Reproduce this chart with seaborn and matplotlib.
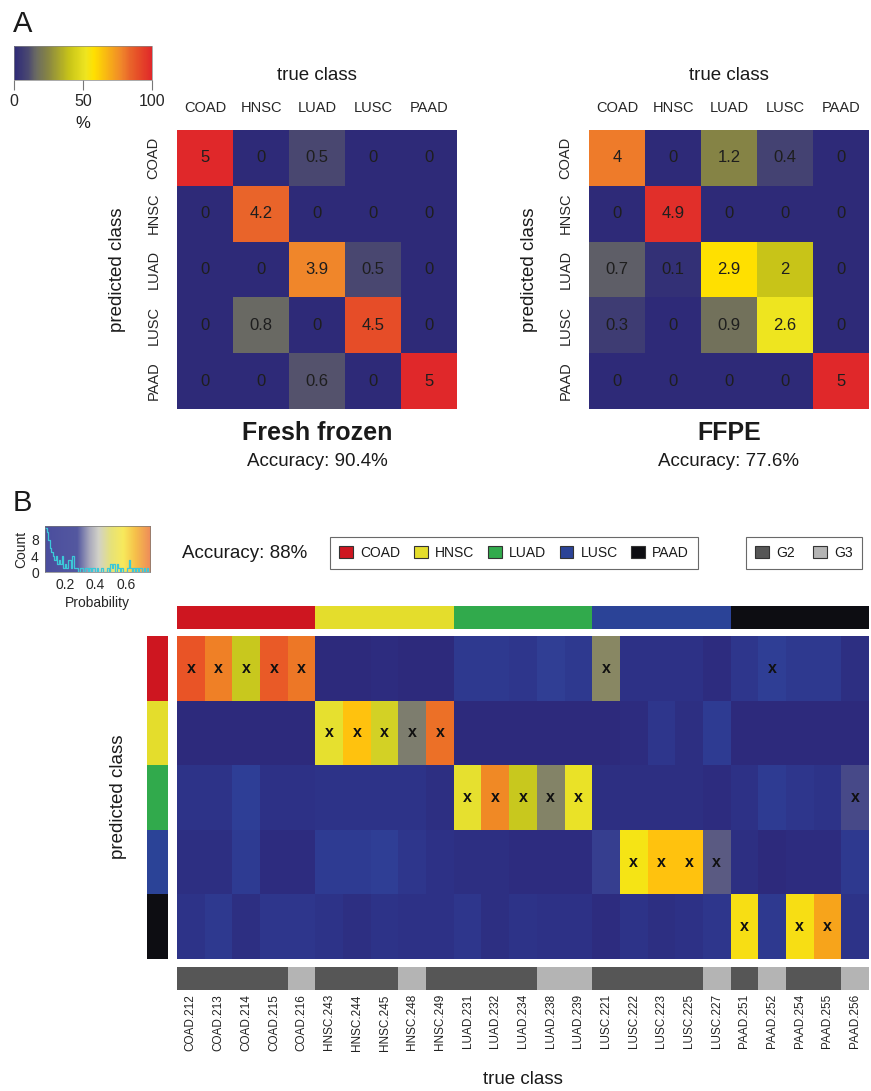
import numpy as np
import pandas as pd
import matplotlib
matplotlib.use("Agg")
import matplotlib as mpl
import matplotlib.pyplot as plt
import seaborn as sns
from matplotlib.colors import LinearSegmentedColormap, ListedColormap, Normalize
from matplotlib.patches import Patch

sns.set_style("white")
plt.rcParams["font.family"] = ["Liberation Sans", "DejaVu Sans"]
plt.rcParams["text.color"] = "#1a1a1a"

# ---------------- data ----------------
classes = ["COAD", "HNSC", "LUAD", "LUSC", "PAAD"]
class_colors = ["#CE1620", "#E4DD2C", "#31AA4C", "#2B4397", "#0D0D12"]

fresh_frozen = [[5, 0, 0.5, 0, 0],
                [0, 4.2, 0, 0, 0],
                [0, 0, 3.9, 0.5, 0],
                [0, 0.8, 0, 4.5, 0],
                [0, 0, 0.6, 0, 5]]
ffpe = [[4, 0, 1.2, 0.4, 0],
        [0, 4.9, 0, 0, 0],
        [0.7, 0.1, 2.9, 2, 0],
        [0.3, 0, 0.9, 2.6, 0],
        [0, 0, 0, 0, 5]]
acc_fresh = "90.4%"
acc_ffpe = "77.6%"
acc_b = "88%"

samples = ["COAD.212", "COAD.213", "COAD.214", "COAD.215", "COAD.216",
           "HNSC.243", "HNSC.244", "HNSC.245", "HNSC.248", "HNSC.249",
           "LUAD.231", "LUAD.232", "LUAD.234", "LUAD.238", "LUAD.239",
           "LUSC.221", "LUSC.222", "LUSC.223", "LUSC.225", "LUSC.227",
           "PAAD.251", "PAAD.252", "PAAD.254", "PAAD.255", "PAAD.256"]
true_class = [s.split(".")[0] for s in samples]
grade = ["G2", "G2", "G2", "G2", "G3",
         "G2", "G2", "G2", "G3", "G2",
         "G2", "G2", "G2", "G3", "G3",
         "G2", "G2", "G2", "G2", "G3",
         "G2", "G3", "G2", "G2", "G3"]
predicted = ["COAD", "COAD", "COAD", "COAD", "COAD",
             "HNSC", "HNSC", "HNSC", "HNSC", "HNSC",
             "LUAD", "LUAD", "LUAD", "LUAD", "LUAD",
             "COAD", "LUSC", "LUSC", "LUSC", "LUSC",
             "PAAD", "COAD", "PAAD", "PAAD", "LUAD"]

prob_coad = [0.74, 0.68, 0.50, 0.73, 0.69, 0.07, 0.07, 0.08, 0.07, 0.07,
             0.13, 0.13, 0.12, 0.17, 0.13, 0.42, 0.10, 0.10, 0.10, 0.08,
             0.12, 0.16, 0.13, 0.13, 0.09]
prob_hnsc = [0.07, 0.07, 0.07, 0.07, 0.07, 0.55, 0.63, 0.52, 0.40, 0.70,
             0.07, 0.07, 0.07, 0.07, 0.07, 0.07, 0.08, 0.12, 0.09, 0.14,
             0.07, 0.07, 0.07, 0.07, 0.07]
prob_luad = [0.11, 0.11, 0.15, 0.10, 0.10, 0.11, 0.11, 0.11, 0.11, 0.09,
             0.55, 0.67, 0.50, 0.41, 0.56, 0.09, 0.09, 0.09, 0.09, 0.08,
             0.10, 0.14, 0.12, 0.11, 0.28]
prob_lusc = [0.09, 0.09, 0.14, 0.08, 0.08, 0.14, 0.14, 0.16, 0.12, 0.10,
             0.09, 0.09, 0.08, 0.08, 0.08, 0.22, 0.58, 0.63, 0.63, 0.32,
             0.09, 0.07, 0.08, 0.08, 0.13]
prob_paad = [0.11, 0.13, 0.09, 0.12, 0.12, 0.11, 0.09, 0.11, 0.10, 0.10,
             0.12, 0.09, 0.11, 0.10, 0.10, 0.08, 0.11, 0.09, 0.10, 0.12,
             0.59, 0.13, 0.59, 0.65, 0.11]

# histogram of the colour key (counts read per 0.01 bin starting at 0.07)
hist_counts = [11, 10, 8, 6, 5, 4, 3, 4, 2, 3,
               2, 4, 1, 2, 1, 3, 3, 1, 4, 1,
               1, 1, 0, 1, 1, 0, 1, 1, 0, 1,
               0, 1, 1, 0, 1, 0, 0, 1, 0, 0,
               0, 1, 0, 2, 1, 2, 0, 2, 1, 0,
               1, 0, 0, 0, 1, 3, 1, 0, 1, 0,
               1, 0, 1, 1, 0, 1, 0, 1, 0]
hist_edges = [round(0.07 + 0.01 * k, 3) for k in range(len(hist_counts) + 1)]
prob_min, prob_max = 0.07, 0.76

# ---------------- colour maps ----------------
cmapA = LinearSegmentedColormap.from_list("confA", [
    (0.00, "#2E2A78"), (0.10, "#4A4870"), (0.16, "#6B6B62"), (0.24, "#858345"),
    (0.40, "#C8C418"), (0.52, "#EEE520"), (0.58, "#FFE000"), (0.78, "#F0862A"),
    (0.84, "#E9652A"), (0.90, "#E64E28"), (1.00, "#E0282A")])


def nb(p):
    return (p - prob_min) / (prob_max - prob_min)


cmapB = LinearSegmentedColormap.from_list("probB", [
    (nb(0.07), "#2D2A7C"), (nb(0.15), "#2E3E96"), (nb(0.25), "#3A3E8C"),
    (nb(0.32), "#5A5A82"), (nb(0.40), "#7D7D6E"), (nb(0.45), "#9A9850"),
    (nb(0.50), "#C8C81E"), (nb(0.55), "#E5E030"), (nb(0.58), "#F5E515"),
    (nb(0.63), "#FFC20E"), (nb(0.67), "#F08A25"), (nb(0.72), "#EA6028"),
    (nb(0.76), "#E84A25")])

# key shown lighter (blue -> pale grey -> yellow -> orange)
cmapKey = LinearSegmentedColormap.from_list("key", [
    (nb(0.07), "#4B4E9E"), (nb(0.28), "#5458A0"), (nb(0.36), "#A9A9BC"),
    (nb(0.42), "#D2D2C8"), (nb(0.50), "#E6E27A"), (nb(0.58), "#F8EA5C"),
    (nb(0.66), "#F6C04A"), (nb(0.76), "#EE8A5A")])

# ---------------- figure ----------------
W, H = 871, 1091
fig = plt.figure(figsize=(W / 100, H / 100), dpi=100)


def add_ax(x0, y0, x1, y1):
    return fig.add_axes([x0 / W, 1 - y1 / H, (x1 - x0) / W, (y1 - y0) / H])


def ftext(x, y, s, **kw):
    kw.setdefault("ha", "center")
    kw.setdefault("va", "center")
    fig.text(x / W, 1 - y / H, s, **kw)


# ---- Panel A ----
ftext(13, 24, "A", fontsize=21, ha="left")

cax = add_ax(14, 46, 152, 80)
cb = mpl.colorbar.ColorbarBase(cax, cmap=cmapA, norm=Normalize(0, 100),
                               orientation="horizontal", ticks=[0, 50, 100])
cb.outline.set_linewidth(0.5)
cb.outline.set_edgecolor("#888888")
cax.tick_params(length=7, width=0.8, color="#777777", labelsize=11.5, pad=3)
ftext(83, 123, "%", fontsize=12)


def confusion(x0, data, title, acc):
    ax = add_ax(x0, 130, x0 + 280, 409)
    df = pd.DataFrame(data, index=classes, columns=classes)
    sns.heatmap(df, ax=ax, cmap=cmapA, vmin=0, vmax=5, annot=True, fmt="g",
                cbar=False, annot_kws={"size": 12, "color": "#1e1e1e"})
    ax.xaxis.tick_top()
    ax.set_xticklabels(classes, rotation=0)
    ax.set_yticklabels(classes, rotation=90, va="center")
    ax.tick_params(axis="x", length=0, labelsize=10.5, pad=11)
    ax.tick_params(axis="y", length=0, labelsize=10.5, pad=12)
    ax.set_xlabel("")
    ax.set_ylabel("")
    cx = x0 + 140
    ftext(cx, 75, "true class", fontsize=13.5)
    ftext(x0 - 60, 270, "predicted class", fontsize=13.5, rotation=90)
    ftext(cx, 433, title, fontsize=18, fontweight="bold")
    ftext(cx, 462, "Accuracy: " + acc, fontsize=13.5)


confusion(177, fresh_frozen, "Fresh frozen", acc_fresh)
confusion(589, ffpe, "FFPE", acc_ffpe)

# ---- Panel B ----
ftext(13, 503, "B", fontsize=21, ha="left")

axk = add_ax(45, 526, 150, 572)
axk.imshow(np.linspace(prob_min, prob_max, 256)[None, :],
           extent=[prob_min, prob_max, 0, 11.5], aspect="auto", cmap=cmapKey,
           vmin=prob_min, vmax=prob_max, origin="lower")
hist_df = pd.DataFrame({
    "p": [(a + b) / 2 for a, b in zip(hist_edges[:-1], hist_edges[1:])],
    "n": hist_counts})
sns.histplot(data=hist_df, x="p", weights="n", bins=hist_edges, element="step",
             fill=False, color="#3CC8D8", linewidth=0.9, ax=axk)
axk.set_xlim(prob_min, prob_max)
axk.set_ylim(0, 11.5)
axk.set_xticks([0.2, 0.4, 0.6])
axk.set_yticks([0, 4, 8])
axk.tick_params(labelsize=10, length=3, width=0.7, pad=1.5, color="#444444")
axk.set_xlabel("Probability", fontsize=10, labelpad=3)
axk.set_ylabel("Count", fontsize=10, labelpad=2)
for sp in axk.spines.values():
    sp.set_linewidth(0.5)
    sp.set_color("#777777")

ftext(182, 553, "Accuracy: " + acc_b, fontsize=13.5, ha="left")

h1 = [Patch(facecolor=c, edgecolor="#333333", linewidth=0.8) for c in class_colors]
leg1 = fig.legend(h1, classes, ncol=5, loc="center",
                  bbox_to_anchor=(514 / W, 1 - 553 / H), frameon=True,
                  fancybox=False, edgecolor="#444444", fontsize=10,
                  handlelength=1.0, handleheight=1.0, handletextpad=0.5,
                  columnspacing=1.0, borderpad=0.65)
leg1.get_frame().set_linewidth(0.8)
grade_levels = ["G2", "G3"]
grade_colors = ["#565656", "#B4B4B4"]
h2 = [Patch(facecolor=c, edgecolor="#333333", linewidth=0.8) for c in grade_colors]
leg2 = fig.legend(h2, grade_levels, ncol=2, loc="center",
                  bbox_to_anchor=(804 / W, 1 - 553 / H), frameon=True,
                  fancybox=False, edgecolor="#444444", fontsize=10,
                  handlelength=1.0, handleheight=1.0, handletextpad=0.5,
                  columnspacing=1.3, borderpad=0.65)
leg2.get_frame().set_linewidth(0.8)

# top annotation bar (true class)
axt = add_ax(177, 606, 869, 629)
sns.heatmap(np.array([[classes.index(c) for c in true_class]]), ax=axt,
            cmap=ListedColormap(class_colors), vmin=-0.5, vmax=4.5, cbar=False,
            xticklabels=False, yticklabels=False)

# left annotation bar (predicted class)
axl = add_ax(147, 636, 168, 959)
sns.heatmap(np.array([[classes.index(c)] for c in classes]), ax=axl,
            cmap=ListedColormap(class_colors), vmin=-0.5, vmax=4.5, cbar=False,
            xticklabels=False, yticklabels=False)

# main probability heatmap
probs = pd.DataFrame([prob_coad, prob_hnsc, prob_luad, prob_lusc, prob_paad],
                     index=classes, columns=samples)
axb = add_ax(177, 636, 869, 959)
sns.heatmap(probs, ax=axb, cmap=cmapB, vmin=prob_min, vmax=prob_max,
            cbar=False, xticklabels=False, yticklabels=False)
for j, p in enumerate(predicted):
    i = classes.index(p)
    axb.text(j + 0.5, i + 0.5, "x", ha="center", va="center", fontsize=11.5,
             fontweight="bold", color="#111111")
ftext(118, 797, "predicted class", fontsize=13.5, rotation=90)

# grade bar
axg = add_ax(177, 967, 869, 990)
sns.heatmap(np.array([[grade_levels.index(g) for g in grade]]), ax=axg,
            cmap=ListedColormap(grade_colors), vmin=-0.5, vmax=1.5, cbar=False,
            xticklabels=samples, yticklabels=False)
axg.tick_params(axis="x", length=0, labelsize=8.5, pad=3, labelcolor="#222222")
plt.setp(axg.get_xticklabels(), rotation=90)
ftext(523, 1079, "true class", fontsize=13.5)

fig.savefig("out.png", dpi=100)
